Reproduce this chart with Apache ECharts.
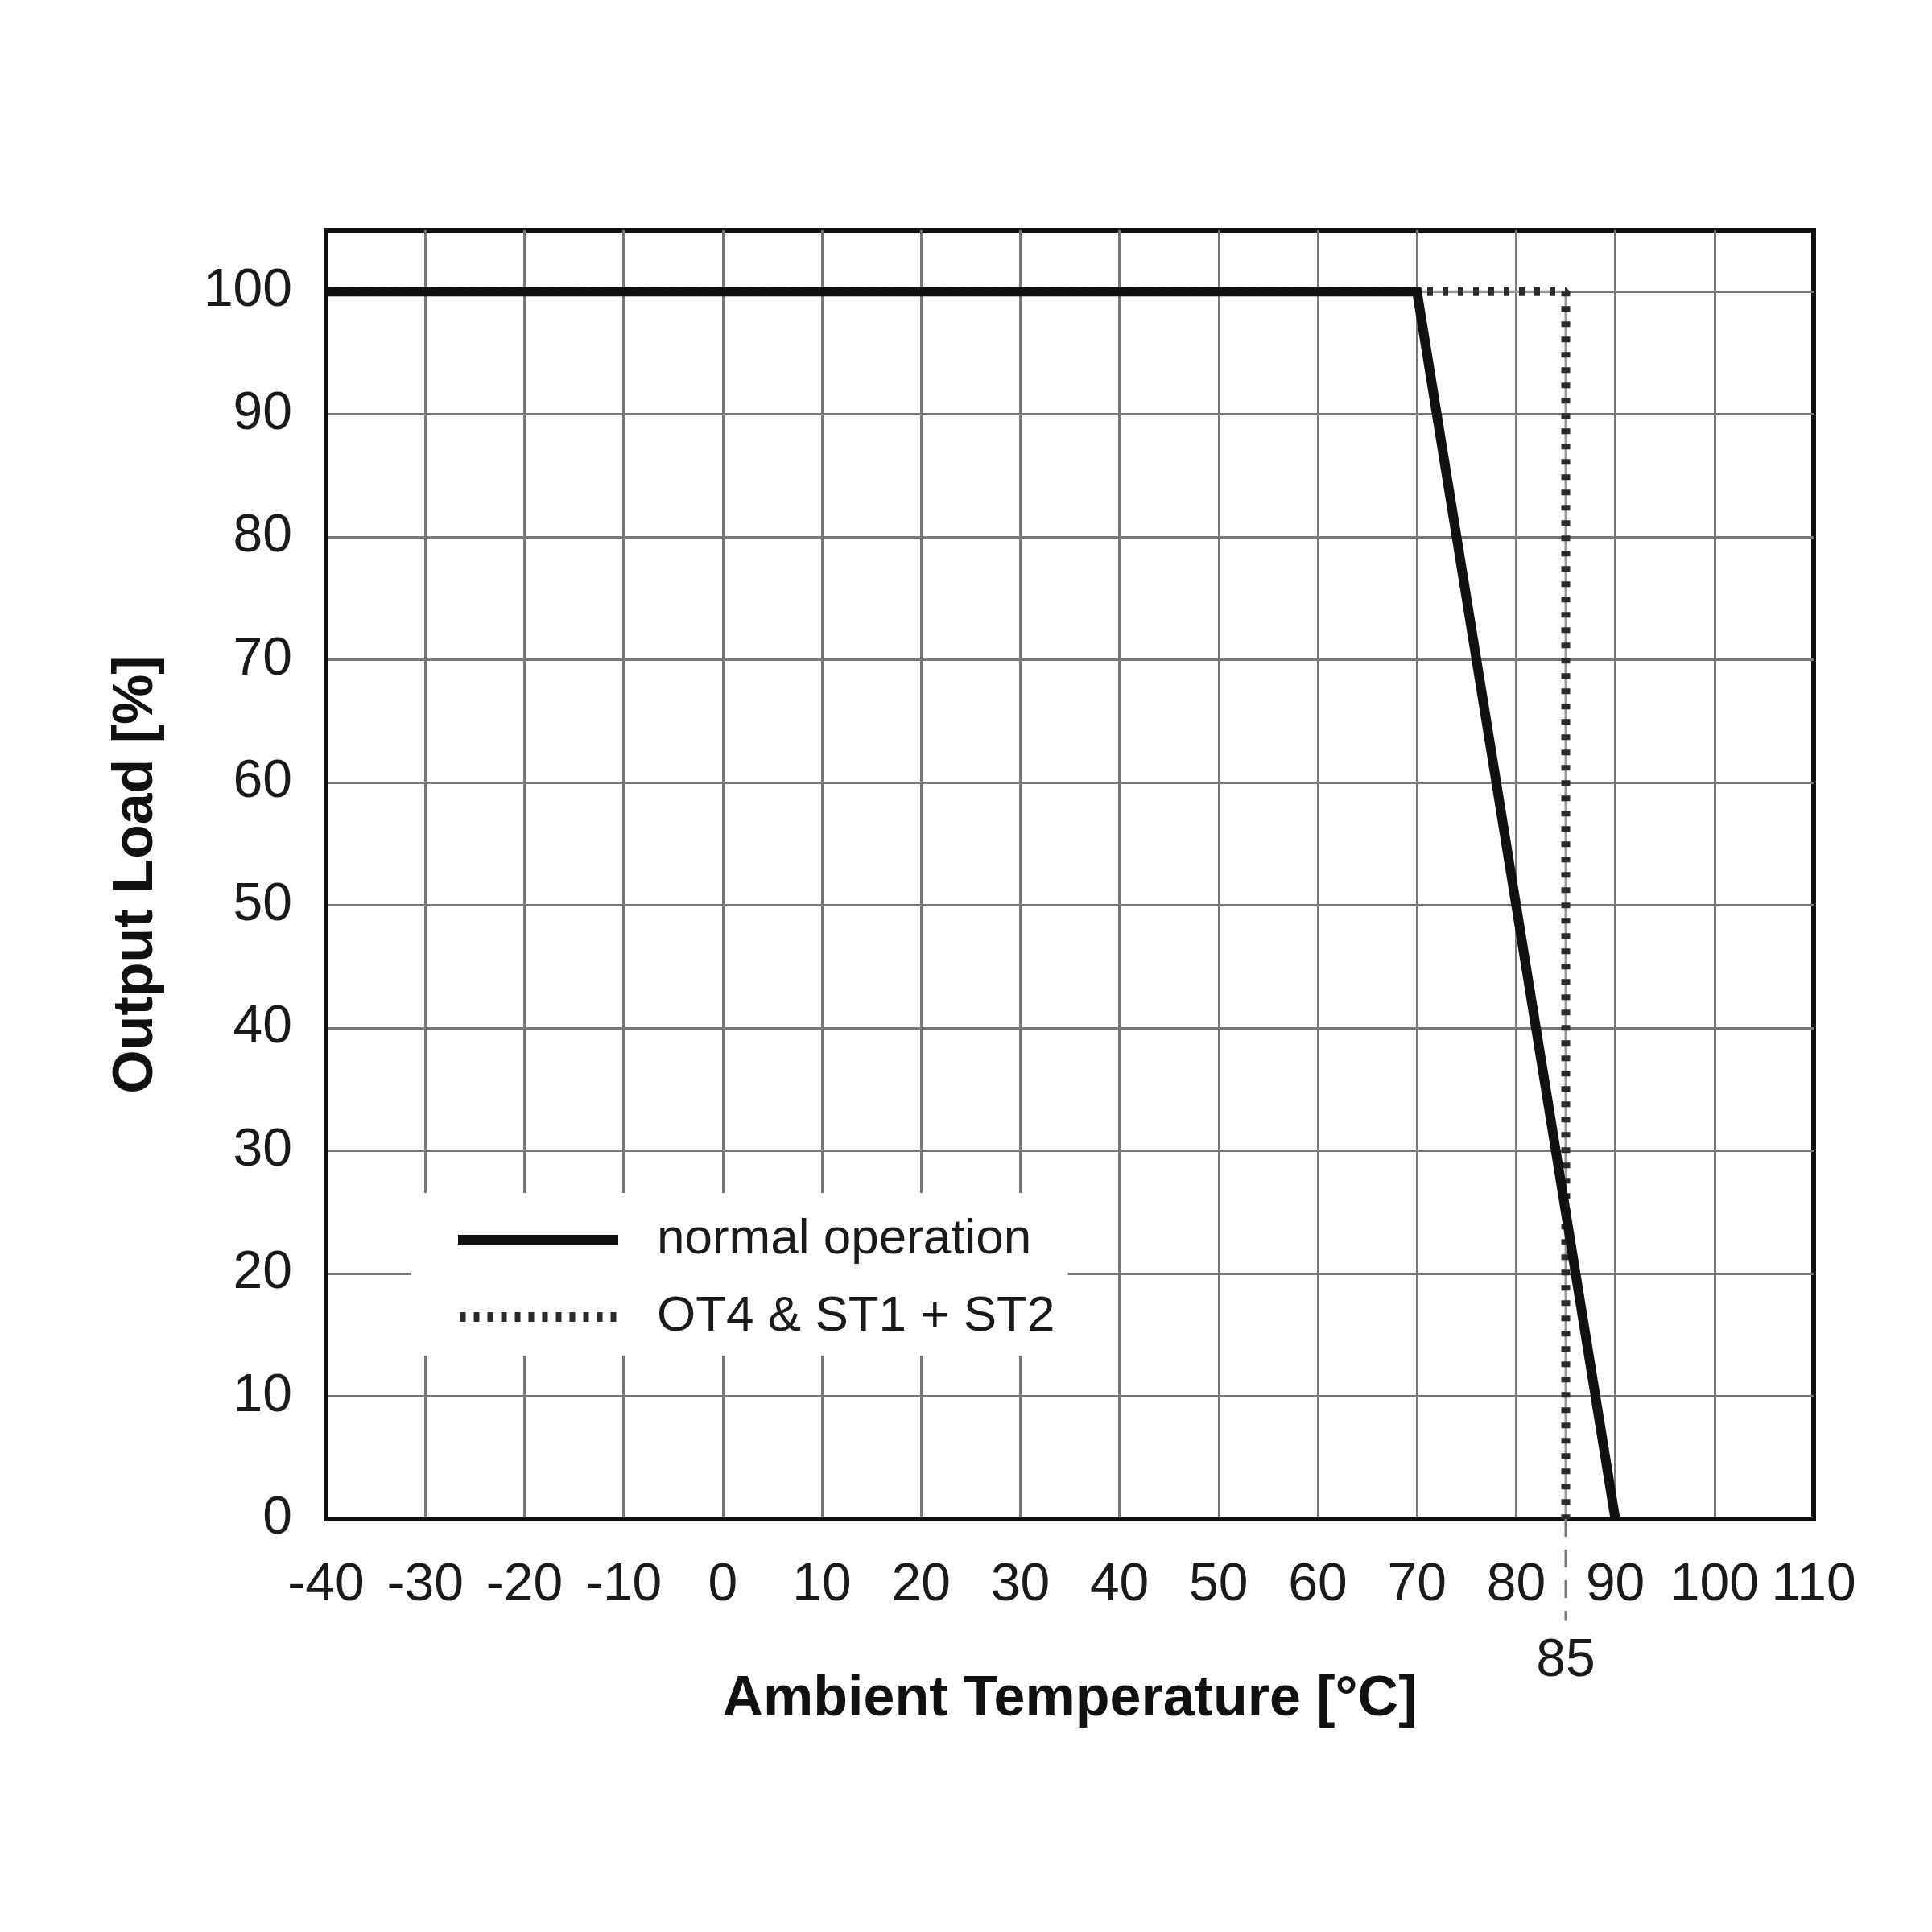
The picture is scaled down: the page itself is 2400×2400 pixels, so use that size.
<!DOCTYPE html>
<html>
<head>
<meta charset="utf-8">
<script src="https://cdn.jsdelivr.net/npm/echarts@6/dist/echarts.min.js"></script>
<style>html,body{margin:0;padding:0;background:#fff}#c{width:2400px;height:2400px}</style>
</head>
<body>
<div id="c"></div>
<script>
const tempNormal = [-40, 70, 90];
const loadNormal = [100, 100, 0];
const tempOT4 = [-40, 85, 85];
const loadOT4 = [100, 100, 0];
const markTemp = 85;
const markTickLoad = [0, -8.3];
const markLabelLoad = -11.6;
const seriesNames = ['normal operation', 'OT4 & ST1 + ST2'];

const FONT = "'Liberation Sans', Arial, sans-serif";
const pairs = (xs, ys) => xs.map((x, i) => [x, ys[i]]);

// dotted legend icon: row of small dashes
let dots = '';
for (let i = 0; i < 12; i++) dots += 'M' + (i * 17) + ',0h7v12h-7z';
const dottedIcon = 'path://' + dots;

const chart = echarts.init(document.getElementById('c'));
chart.setOption({
  animation: false,
  backgroundColor: '#fff',
  grid: { left: 405, top: 286, width: 1848, height: 1601, show: true, borderColor: '#111', borderWidth: 6, containLabel: false },
  legend: {
    data: [
      { name: seriesNames[0], icon: 'rect', itemStyle: { color: '#111' } },
      { name: seriesNames[1], icon: dottedIcon, itemStyle: { color: '#2a2a2a' } }
    ],
    orient: 'vertical',
    left: 510, top: 1482,
    backgroundColor: '#fff',
    padding: [27, 16, 17, 59],
    itemWidth: 199, itemHeight: 12, itemGap: 34,
    textStyle: { fontFamily: FONT, fontSize: 62, color: '#1a1a1a', padding: [0, 0, 0, 43] },
    z: 10
  },
  xAxis: {
    type: 'value', min: -40, max: 110, interval: 10,
    name: 'Ambient Temperature [°C]', nameLocation: 'middle', nameGap: 190,
    nameTextStyle: { fontFamily: FONT, fontSize: 70, fontWeight: 'bold', color: '#111' },
    axisLine: { show: true, onZero: false, lineStyle: { color: '#111', width: 6 } },
    axisTick: { show: false },
    axisLabel: { fontFamily: FONT, fontSize: 66, color: '#1a1a1a', margin: 50, showMinLabel: true, showMaxLabel: true },
    splitLine: { show: true, showMinLine: false, showMaxLine: false, lineStyle: { color: '#777', width: 3 } }
  },
  yAxis: {
    type: 'value', min: 0, max: 105, interval: 10,
    name: 'Output Load [%]', nameLocation: 'middle', nameGap: 200,
    nameTextStyle: { fontFamily: FONT, fontSize: 70, fontWeight: 'bold', color: '#111' },
    axisLine: { show: true, onZero: false, lineStyle: { color: '#111', width: 6 } },
    axisTick: { show: false },
    axisLabel: { fontFamily: FONT, fontSize: 66, color: '#1a1a1a', margin: 42, showMaxLabel: false,
      formatter: v => (v > 100 ? '' : String(v)) },
    splitLine: { show: true, showMinLine: false, showMaxLine: false, lineStyle: { color: '#777', width: 3 } }
  },
  series: [
    {
      name: 'ot4-under', type: 'line', data: pairs(tempOT4, loadOT4),
      symbol: 'none', z: 2, silent: true,
      lineStyle: { color: '#999', width: 3 }
    },
    {
      name: seriesNames[1], type: 'line', data: pairs(tempOT4, loadOT4),
      symbol: 'none', z: 3,
      lineStyle: { color: '#2a2a2a', width: 11, type: [7, 12], cap: 'butt' },
      itemStyle: { color: '#2a2a2a' }
    },
    {
      name: seriesNames[0], type: 'line', data: pairs(tempNormal, loadNormal),
      symbol: 'none', z: 4,
      lineStyle: { color: '#111', width: 12, join: 'miter' },
      itemStyle: { color: '#111' }
    },
    {
      name: 'tick85', type: 'line', data: markTickLoad.map(v => [markTemp, v]),
      symbol: 'none', clip: false, silent: true, z: 2,
      lineStyle: { color: '#777', width: 3, type: [22, 16] }
    },
    {
      name: 'label85', type: 'scatter', data: [[markTemp, markLabelLoad]],
      symbolSize: 1, clip: false, silent: true,
      itemStyle: { color: '#fff', opacity: 0 },
      label: { show: true, position: 'inside', formatter: String(markTemp), fontFamily: FONT, fontSize: 66, color: '#1a1a1a', opacity: 1 }
    }
  ]
});
</script>
</body>
</html>
